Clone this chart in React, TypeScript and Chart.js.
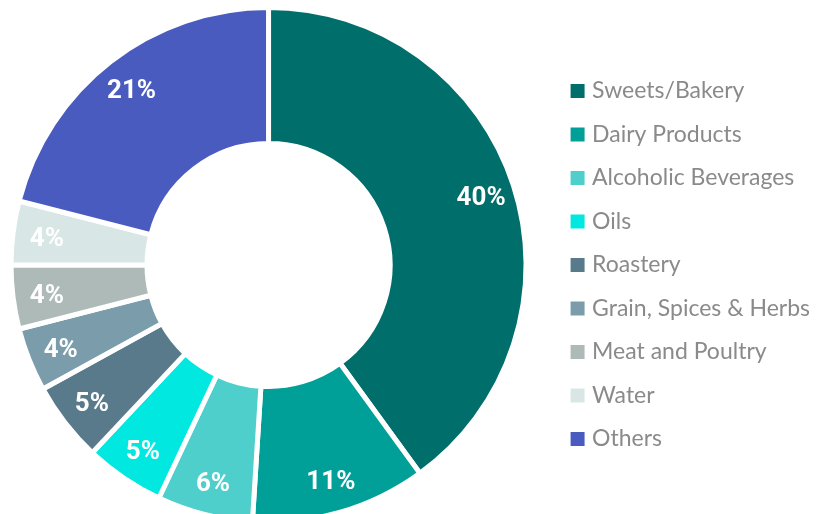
import React, { useEffect, useRef } from "react";
import { Chart, registerables } from "chart.js";

Chart.register(...registerables);

const categories = [
  "Sweets/Bakery",
  "Dairy Products",
  "Alcoholic Beverages",
  "Oils",
  "Roastery",
  "Grain, Spices & Herbs",
  "Meat and Poultry",
  "Water",
  "Others",
];
const shares = [40, 11, 6, 5, 5, 4, 4, 4, 21];
const colors = [
  "#006e6a",
  "#009f98",
  "#4ecfcb",
  "#00e8e0",
  "#587a8b",
  "#7a9cab",
  "#adbab8",
  "#d8e6e6",
  "#4a5bc0",
];

const LEGEND_FONT = { family: "Lato, 'DejaVu Sans', sans-serif", size: 23 };
const LEGEND_PAD = 20.5;
const BOX_INNER = 6;
const BOX_STROKE = 8;

const labelPlugin = {
  id: "sliceLabels",
  afterDatasetsDraw(chart: any) {
    const { ctx } = chart;
    const meta = chart.getDatasetMeta(0);
    ctx.save();
    ctx.font = "bold 26px Roboto, 'DejaVu Sans', sans-serif";
    ctx.fillStyle = "#ffffff";
    ctx.textAlign = "center";
    ctx.textBaseline = "middle";
    meta.data.forEach((arc: any, i: number) => {
      const p = arc.getProps(
        ["x", "y", "startAngle", "endAngle", "innerRadius", "outerRadius"],
        true
      );
      const mid = (p.startAngle + p.endAngle) / 2;
      const r = p.innerRadius + 0.75 * (p.outerRadius - p.innerRadius);
      ctx.fillText(
        `${shares[i]}%`,
        p.x + Math.cos(mid) * r,
        p.y + Math.sin(mid) * r + 3
      );
    });
    ctx.restore();
  },
};

export default function App() {
  const canvasRef = useRef<HTMLCanvasElement | null>(null);

  useEffect(() => {
    const canvas = canvasRef.current;
    if (!canvas) return;
    const m = document.createElement("canvas").getContext("2d")!;
    m.font = `${LEGEND_FONT.size}px ${LEGEND_FONT.family}`;
    let maxW = 0;
    categories.forEach((c) => {
      maxW = Math.max(maxW, m.measureText(c).width);
    });
    const legendW = LEGEND_PAD + BOX_INNER + LEGEND_FONT.size / 2 + maxW + 10;
    // visible legend square starts at page x 570; pie centred at page x 268
    const legendLeft = 570 + BOX_STROKE / 2 - LEGEND_PAD;
    const off = 2 * 268 - legendLeft;
    const W = Math.round(legendLeft - off + legendW);
    const H = 530;
    canvas.width = W;
    canvas.height = H;
    canvas.style.width = W + "px";
    canvas.style.height = H + "px";
    canvas.style.left = off + "px";

    const baseGen = (Chart as any).overrides.doughnut.plugins.legend.labels
      .generateLabels;

    const chart = new Chart(canvas, {
      type: "doughnut",
      data: {
        labels: categories,
        datasets: [
          {
            data: shares,
            backgroundColor: colors,
            borderColor: "#ffffff",
            borderWidth: 5,
            hoverOffset: 0,
          },
        ],
      },
      options: {
        responsive: false,
        animation: false,
        radius: 257.5,
        cutout: "47.2%",
        layout: { padding: 0 },
        plugins: {
          tooltip: { enabled: false },
          legend: {
            position: "right",
            align: "center",
            labels: {
              boxWidth: BOX_INNER,
              boxHeight: BOX_INNER,
              padding: LEGEND_PAD,
              color: "#8a8a8a",
              font: LEGEND_FONT,
              generateLabels: (c: any) =>
                baseGen(c).map((l: any) => ({
                  ...l,
                  lineWidth: BOX_STROKE,
                  strokeStyle: l.fillStyle,
                  lineJoin: "miter",
                })),
            },
          },
        },
      },
      plugins: [labelPlugin],
    });
    return () => chart.destroy();
  }, []);

  return (
    <div
      style={{
        position: "fixed",
        left: 0,
        top: 0,
        width: 819,
        height: 514,
        overflow: "hidden",
        background: "#ffffff",
      }}
    >
      <canvas
        ref={canvasRef}
        style={{ position: "absolute", left: 0, top: 0, display: "block" }}
      />
    </div>
  );
}
